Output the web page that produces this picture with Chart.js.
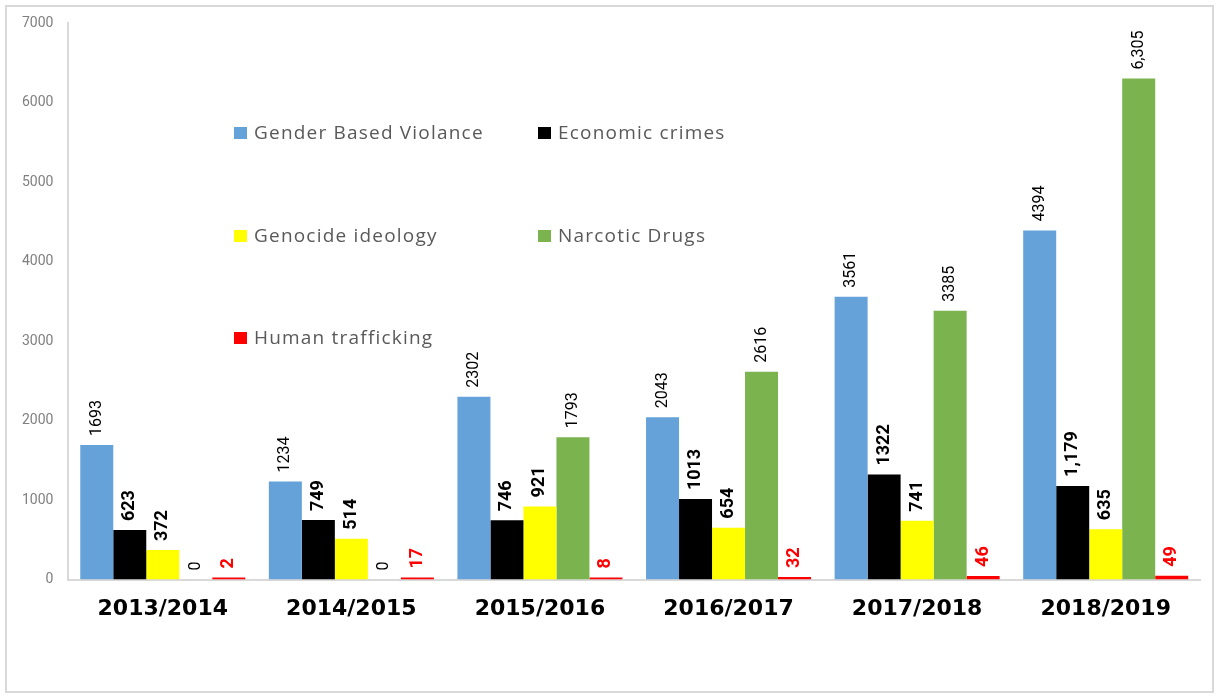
<!DOCTYPE html>
<html>
<head>
<meta charset="utf-8">
<script src="https://cdn.jsdelivr.net/npm/chart.js@4.4.0/dist/chart.umd.min.js"></script>
<style>
    html, body { margin: 0; padding: 0; background: #fff; }
    #wrap { width: 1219px; height: 698px; position: relative; }
</style>
</head>
<body>
<div id="wrap"><canvas id="crimeChart"></canvas></div>
<script>
// Chart data
const years = ['2013/2014', '2014/2015', '2015/2016', '2016/2017', '2017/2018', '2018/2019'];
const genderViolence = [1693, 1234, 2302, 2043, 3561, 4394];
const economicCrimes = [623, 749, 746, 1013, 1322, 1179];
const genocideIdeology = [372, 514, 921, 654, 741, 635];
const narcoticDrugs = [0, 0, 1793, 2616, 3385, 6305];
const humanTrafficking = [2, 17, 8, 32, 46, 49];
const yMax = 7000;
const yStep = 1000;
// labels printed with a thousands separator in the source
const commaFormatted = { 'Economic crimes': ['2018/2019'], 'Narcotic Drugs': ['2018/2019'] };

const LABEL_NORMAL = '16px Roboto, sans-serif';
const LABEL_BOLD = 'bold 18px Roboto, sans-serif';

// frame around the whole picture
const framePlugin = {
    id: 'frame',
    beforeDraw(chart) {
        const ctx = chart.ctx;
        ctx.save();
        ctx.fillStyle = '#ffffff';
        ctx.fillRect(0, 0, chart.width, chart.height);
        ctx.strokeStyle = '#d9d9d9';
        ctx.lineWidth = 2;
        ctx.strokeRect(6, 6, chart.width - 12, chart.height - 12);
        ctx.restore();
    }
};

// rotated value labels above the bars
const valueLabels = {
    id: 'valueLabels',
    afterDatasetsDraw(chart) {
        const ctx = chart.ctx;
        chart.data.datasets.forEach((ds, i) => {
            const meta = chart.getDatasetMeta(i);
            meta.data.forEach((bar, j) => {
                const v = ds.data[j];
                const useComma = (commaFormatted[ds.label] || []).includes(chart.data.labels[j]);
                const txt = useComma ? v.toLocaleString('en-US') : String(v);
                ctx.save();
                ctx.translate(bar.x, bar.y - 9);
                ctx.rotate(-Math.PI / 2);
                ctx.font = ds.labelFont;
                ctx.fillStyle = ds.labelColor;
                ctx.textAlign = 'left';
                ctx.textBaseline = 'middle';
                ctx.fillText(txt, 0, 0);
                ctx.restore();
            });
        });
    }
};

// legend laid out in two columns inside the plot
const insideLegend = {
    id: 'insideLegend',
    afterDraw(chart) {
        const ctx = chart.ctx;
        const cols = [234, 538];
        const rows = [133, 236, 338];
        ctx.save();
        ctx.font = '19px "Open Sans", sans-serif';
        ctx.letterSpacing = '1.2px';
        ctx.textBaseline = 'middle';
        chart.data.datasets.forEach((ds, i) => {
            const x = cols[i % 2];
            const y = rows[Math.floor(i / 2)];
            ctx.fillStyle = ds.backgroundColor;
            ctx.fillRect(x, y - 6, 13, 12);
            ctx.fillStyle = '#595959';
            ctx.fillText(ds.label, x + 20, y + 1);
        });
        ctx.restore();
    }
};

document.addEventListener('DOMContentLoaded', function() {
    const ctx = document.getElementById('crimeChart').getContext('2d');
    new Chart(ctx, {
        type: 'bar',
        data: {
            labels: years,
            datasets: [{
                label: 'Gender Based Violance',
                data: genderViolence,
                backgroundColor: '#65A2D9',
                labelFont: LABEL_NORMAL,
                labelColor: '#000000'
            }, {
                label: 'Economic crimes',
                data: economicCrimes,
                backgroundColor: '#000000',
                labelFont: LABEL_BOLD,
                labelColor: '#000000'
            }, {
                label: 'Genocide ideology',
                data: genocideIdeology,
                backgroundColor: '#FFFF00',
                labelFont: LABEL_BOLD,
                labelColor: '#000000'
            }, {
                label: 'Narcotic Drugs',
                data: narcoticDrugs,
                backgroundColor: '#7BB34F',
                labelFont: LABEL_NORMAL,
                labelColor: '#000000'
            }, {
                label: 'Human trafficking',
                data: humanTrafficking,
                backgroundColor: '#FF0000',
                minBarLength: 2,
                labelFont: LABEL_BOLD,
                labelColor: '#FF0000'
            }]
        },
        options: {
            responsive: true,
            maintainAspectRatio: false,
            animation: false,
            layout: {
                padding: { left: 7, right: 19, top: 16, bottom: 68 }
            },
            datasets: {
                bar: {
                    categoryPercentage: 0.875,
                    barPercentage: 1,
                    borderWidth: 0
                }
            },
            scales: {
                x: {
                    grid: { display: false },
                    border: { color: '#d9d9d9', width: 2 },
                    ticks: {
                        color: '#000000',
                        padding: 8,
                        font: { family: 'DejaVu Sans', size: 22, weight: 'bold' }
                    }
                },
                y: {
                    min: 0,
                    max: yMax,
                    grid: { display: false, drawTicks: false },
                    border: { color: '#d9d9d9', width: 2 },
                    ticks: {
                        stepSize: yStep,
                        color: '#7f7f7f',
                        padding: 15,
                        font: { family: 'Roboto', size: 14 },
                        callback: function(value) {
                            return String(value);
                        }
                    }
                }
            },
            plugins: {
                legend: { display: false },
                tooltip: { enabled: false }
            }
        },
        plugins: [framePlugin, valueLabels, insideLegend]
    });
});
</script>
</body>
</html>
